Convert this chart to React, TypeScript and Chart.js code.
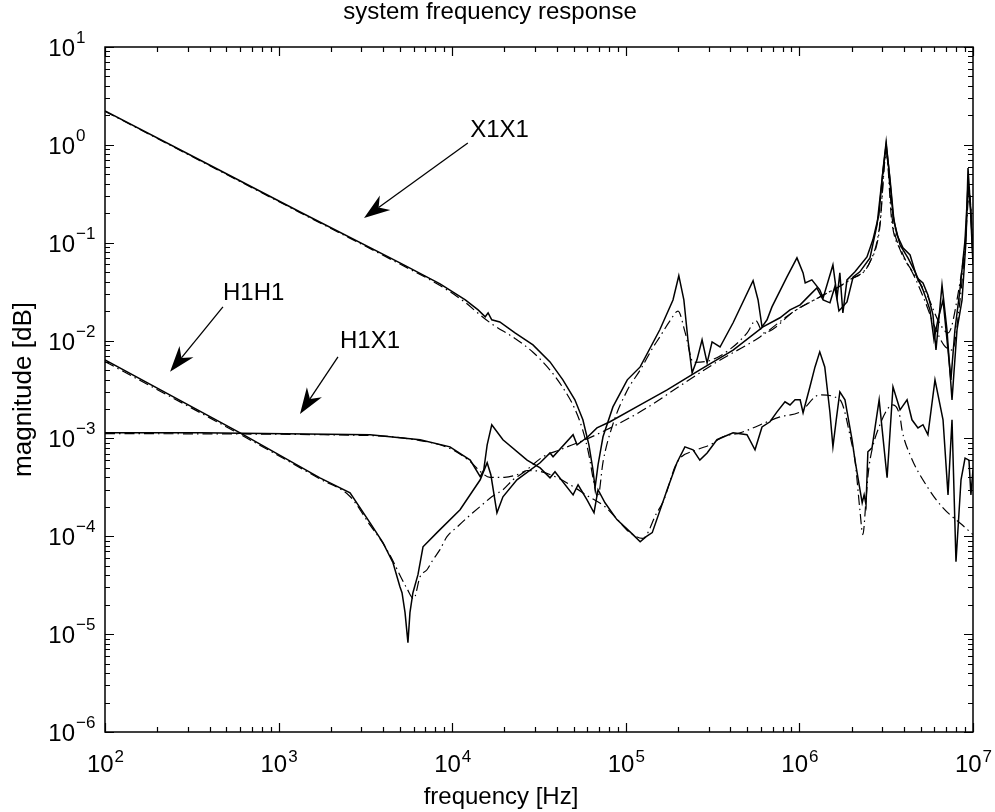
import React, { useEffect, useRef } from "react";
import { Chart, registerables } from "chart.js";

Chart.register(...registerables);

// ---------------- data (frequency in Hz, magnitude) ----------------
// X1X1 measured (solid)
const x1x1Freq = [100, 352, 1330, 5000, 8510, 11900, 14100, 15500, 16100, 16900, 18800, 23000, 29200, 36600, 43400, 50900, 56600, 61300, 64700, 66500, 69200, 73900, 84300, 102000, 121000, 157000, 187000, 202000, 216000, 228000, 241000, 257000, 275000, 294000, 314000, 349000, 415000, 541000, 578000, 609000, 651000, 695000, 848000, 968000, 1050000, 1080000, 1180000, 1310000, 1370000, 1560000, 1650000, 1710000, 1780000, 1880000, 2090000, 2450000, 2650000, 2870000, 3030000, 3160000, 3280000, 3460000, 3650000, 3950000, 4340000, 4760000, 5150000, 5500000, 5880000, 6120000, 6630000, 7080000, 7570000, 8090000, 8650000, 9120000, 9360000, 9610000, 10000000];
const x1x1Mag = [2.22, 0.70, 0.206, 0.0622, 0.0379, 0.026, 0.0206, 0.0175, 0.0192, 0.0163, 0.0155, 0.0120, 0.00904, 0.00605, 0.00397, 0.00248, 0.00155, 0.00086, 0.000478, 0.000313, 0.000537, 0.00104, 0.0021, 0.00397, 0.00538, 0.0129, 0.026, 0.046, 0.026, 0.0102, 0.00468, 0.00635, 0.0102, 0.00592, 0.0097, 0.0086, 0.0152, 0.041, 0.026, 0.0138, 0.0163, 0.0221, 0.0448, 0.070, 0.0492, 0.0388, 0.0417, 0.033, 0.0273, 0.0593, 0.0279, 0.0492, 0.0192, 0.0417, 0.0504, 0.0716, 0.107, 0.192, 0.554, 1.07, 0.554, 0.192, 0.120, 0.0885, 0.075, 0.0437, 0.0388, 0.0293, 0.0183, 0.008, 0.037, 0.0129, 0.00248, 0.0129, 0.026, 0.107, 0.58, 0.274, 0.06];

// H1H1 measured (solid)
const h1h1Freq = [100, 600, 1730, 2580, 3365, 3990, 4560, 5000, 5140, 5350, 5560, 5710, 5940, 6350, 6790, 8170, 11100, 14500, 15900, 16700, 18100, 19600, 23600, 32100, 36600, 38100, 49700, 52400, 60500, 68200, 81100, 121000, 173000, 267000, 415000, 617000, 773000, 883000, 1010000, 1150000, 1260000, 1370000, 1500000, 1600000, 1690000, 1880000, 2040000, 2230000, 2550000, 2800000, 2990000, 3160000, 3330000, 3510000, 3800000, 4220000, 4640000, 5150000, 5650000, 5960000, 6280000, 6720000, 7180000, 7460000, 7870000, 8410000, 9000000, 9360000, 9730000, 10000000];
const h1h1Mag = [6.35e-3, 1.14e-3, 3.96e-4, 2.78e-4, 1.37e-4, 8.6e-5, 5.36e-5, 3.05e-5, 2.65e-5, 1.66e-5, 8.2e-6, 1.66e-5, 2.65e-5, 4.05e-5, 7.8e-5, 1.09e-4, 1.87e-4, 3.78e-4, 5.64e-4, 4.25e-4, 1.74e-4, 2.53e-4, 3.78e-4, 5.64e-4, 7.1e-4, 6.5e-4, 1.09e-3, 8.6e-4, 1.04e-3, 1.28e-3, 1.48e-3, 2.2e-3, 3.13e-3, 5.02e-3, 8.0e-3, 0.0138, 0.0171, 0.0206, 0.0232, 0.0293, 0.0345, 0.026, 0.0243, 0.0354, 0.0201, 0.0248, 0.0448, 0.0504, 0.070, 0.152, 0.438, 1.0, 0.438, 0.163, 0.095, 0.070, 0.0504, 0.033, 0.0206, 0.0102, 0.0163, 0.026, 0.008, 0.00397, 0.0129, 0.033, 0.107, 0.389, 0.216, 0.0667];

// H1X1 measured (solid)
const h1x1Freq = [100, 352, 3365, 6530, 9710, 12700, 14500, 15200, 15900, 16900, 19600, 27000, 32100, 36600, 39100, 49700, 53100, 59800, 65600, 69200, 75900, 88900, 110000, 121000, 131000, 142000, 173000, 197000, 219000, 244000, 267000, 294000, 335000, 415000, 499000, 555000, 609000, 677000, 743000, 826000, 883000, 944000, 1010000, 1050000, 1150000, 1230000, 1310000, 1400000, 1500000, 1560000, 1630000, 1710000, 1830000, 2010000, 2090000, 2300000, 2360000, 2420000, 2480000, 2620000, 2880000, 3200000, 3460000, 3800000, 4170000, 4450000, 4820000, 5150000, 5500000, 6040000, 6720000, 7180000, 7570000, 7980000, 8530000, 9000000, 9480000, 9730000, 10000000];
const h1x1Mag = [1.14e-3, 1.14e-3, 1.09e-3, 9.7e-4, 8.2e-4, 6.0e-4, 4.06e-4, 4.78e-4, 8.6e-4, 1.38e-3, 9.7e-4, 6.0e-4, 5.0e-4, 3.96e-4, 4.56e-4, 2.65e-4, 3.36e-4, 2.36e-4, 1.74e-4, 2.99e-4, 2.2e-4, 1.48e-4, 1.04e-4, 8.8e-5, 9.9e-5, 1.09e-4, 2.99e-4, 5.64e-4, 8.2e-4, 7.65e-4, 6.0e-4, 7.1e-4, 9.7e-4, 1.14e-3, 1.09e-3, 7.65e-4, 1.31e-3, 1.48e-3, 1.87e-3, 2.37e-3, 2.2e-3, 2.48e-3, 2.48e-3, 1.83e-3, 3.37e-3, 5.38e-3, 7.67e-3, 5.38e-3, 1.83e-3, 8.2e-4, 1.55e-3, 2.99e-3, 2.48e-3, 9.7e-4, 6.0e-4, 2.2e-4, 2.65e-4, 2.1e-4, 7.3e-4, 8.0e-4, 2.48e-3, 3.96e-4, 3.37e-3, 1.96e-3, 2.48e-3, 1.55e-3, 1.28e-3, 1.38e-3, 1.09e-3, 3.97e-3, 1.55e-3, 2.65e-4, 1.55e-3, 5.5e-5, 3.78e-4, 6.3e-4, 6.0e-4, 2.65e-4, 4.78e-4];

// X1X1 model (dash-dot)
const x1x1ModelFreq = [100, 1330, 5000, 8510, 11900, 14100, 16900, 23000, 29200, 36600, 43400, 50900, 56600, 61300, 65000, 69000, 74000, 84300, 102000, 121000, 144000, 157000, 180000, 200000, 220000, 245000, 300000, 400000, 500000, 560000, 620000, 700000, 920000, 1310000, 1950000, 2550000, 2900000, 3160000, 3400000, 3800000, 4500000, 5500000, 6300000, 7200000, 8200000, 9000000, 9500000, 10000000];
const x1x1ModelMag = [2.2, 0.203, 0.0605, 0.0365, 0.0245, 0.019, 0.0148, 0.0105, 0.0076, 0.005, 0.0033, 0.002, 0.0012, 0.00068, 0.00038, 0.00025, 0.00058, 0.0014, 0.0031, 0.005, 0.0086, 0.0109, 0.016, 0.02, 0.012, 0.006, 0.0062, 0.0082, 0.012, 0.016, 0.012, 0.013, 0.0196, 0.0279, 0.0417, 0.0637, 0.15, 0.85, 0.17, 0.085, 0.05, 0.028, 0.016, 0.012, 0.03, 0.1, 0.35, 0.08];

// H1H1 model (dash-dot)
const h1h1ModelFreq = [100, 600, 1730, 2580, 3365, 3990, 4560, 5000, 5500, 6000, 6530, 7160, 7750, 8500, 9330, 10700, 12200, 14900, 16900, 19600, 22400, 25600, 33400, 41800, 68200, 121000, 214000, 335000, 593000, 918000, 1310000, 1950000, 2550000, 2900000, 3160000, 3450000, 3900000, 4600000, 5300000, 6000000, 6800000, 7600000, 8400000, 9000000, 9500000, 10000000];
const h1h1ModelMag = [6.1e-3, 1.1e-3, 3.85e-4, 2.55e-4, 1.3e-4, 8.5e-5, 5.6e-5, 4.0e-5, 2.9e-5, 2.3e-5, 3.86e-5, 4.55e-5, 5.75e-5, 7.3e-5, 9.9e-5, 1.25e-4, 1.55e-4, 2.1e-4, 2.53e-4, 2.99e-4, 3.78e-4, 4.45e-4, 6.5e-4, 7.65e-4, 1.1e-3, 1.87e-3, 3.61e-3, 6.05e-3, 0.0109, 0.0196, 0.0279, 0.0417, 0.0637, 0.14, 0.8, 0.16, 0.08, 0.045, 0.025, 0.014, 0.009, 0.008, 0.025, 0.09, 0.3, 0.07];

// H1X1 model (dash-dot)
const h1x1ModelFreq = [100, 3365, 6530, 9710, 12700, 14500, 16500, 20000, 24000, 27000, 32000, 40000, 50000, 60000, 76000, 89000, 105000, 125000, 151000, 164000, 197000, 257000, 306000, 363000, 455000, 773000, 1010000, 1310000, 1710000, 2010000, 2090000, 2230000, 2320000, 2420000, 2480000, 2550000, 2910000, 3460000, 3800000, 3900000, 4340000, 5500000, 6720000, 8650000, 10000000];
const h1x1ModelMag = [1.12e-3, 1.07e-3, 9.5e-4, 7.9e-4, 5.8e-4, 4.6e-4, 4.0e-4, 4.0e-4, 4.3e-4, 4.7e-4, 4.6e-4, 4.0e-4, 3.2e-4, 2.6e-4, 2.0e-4, 1.5e-4, 1.1e-4, 9.5e-5, 1.74e-4, 2.25e-4, 5.64e-4, 7.65e-4, 8.6e-4, 1.04e-3, 1.14e-3, 1.66e-3, 1.87e-3, 2.79e-3, 2.48e-3, 8.6e-4, 6.0e-4, 1.87e-4, 1.04e-4, 2.36e-4, 4.06e-4, 6.0e-4, 1.38e-3, 2.2e-3, 1.66e-3, 1.22e-3, 6.8e-4, 3.13e-4, 1.95e-4, 1.31e-4, 1.04e-4];

// axis decades (tick labels 10^n)
const xDecades = [2, 3, 4, 5, 6, 7];
const yDecades = [-6, -5, -4, -3, -2, -1, 0, 1];

// annotations: label, text anchor (freq, mag), arrow tail, arrow tip
const annotationLabels = ["X1X1", "H1H1", "H1X1"];
const annotationTextFreq = [12700, 478, 2259];
const annotationTextMag = [1.42, 0.0307, 0.0097];
const annotationTailFreq = [12300, 478, 2198];
const annotationTailMag = [1.045, 0.0221, 0.00682];
const annotationTipFreq = [3105, 237, 1328];
const annotationTipMag = [0.179, 0.00479, 0.00178];

const titleText = "system frequency response";
const xTitle = "frequency [Hz]";
const yTitle = "magnitude [dB]";

const FONT = '"Liberation Sans", Arial, Helvetica, sans-serif';

const pts = (f: number[], m: number[]) => f.map((x, i) => ({ x, y: m[i] }));

function drawArrow(ctx: CanvasRenderingContext2D, x0: number, y0: number, x1: number, y1: number) {
  const ang = Math.atan2(y1 - y0, x1 - x0);
  const c = Math.cos(ang), s = Math.sin(ang);
  const L = 26, W = 9, back = 18;
  ctx.beginPath();
  ctx.moveTo(x0, y0);
  ctx.lineTo(x1 - c * back, y1 - s * back);
  ctx.stroke();
  const bx = x1 - c * L, by = y1 - s * L;
  const nx = -s, ny = c;
  ctx.beginPath();
  ctx.moveTo(x1, y1);
  ctx.lineTo(bx + nx * W, by + ny * W);
  ctx.lineTo(x1 - c * back, y1 - s * back);
  ctx.lineTo(bx - nx * W, by - ny * W);
  ctx.closePath();
  ctx.fill();
}

const matlabAxes = {
  id: "matlabAxes",
  afterDatasetsDraw(chart: any) {
    const ctx: CanvasRenderingContext2D = chart.ctx;
    const { left, right, top, bottom } = chart.chartArea;
    const xs = chart.scales.x;
    const ys = chart.scales.y;
    ctx.save();
    ctx.strokeStyle = "#000";
    ctx.fillStyle = "#000";
    // box
    ctx.lineWidth = 1.5;
    ctx.strokeRect(left, top, right - left, bottom - top);
    // ticks
    ctx.lineWidth = 1.2;
    ctx.beginPath();
    for (let e = 2; e <= 7; e++) {
      for (let m = 1; m <= 9; m++) {
        const v = m * Math.pow(10, e);
        if (v > 1e7 * 1.0001) continue;
        const px = Math.round(xs.getPixelForValue(v)) + 0.5;
        const len = m === 1 ? 9 : 5;
        ctx.moveTo(px, bottom); ctx.lineTo(px, bottom - len);
        ctx.moveTo(px, top); ctx.lineTo(px, top + len);
      }
    }
    for (let e = -6; e <= 1; e++) {
      for (let m = 1; m <= 9; m++) {
        const v = m * Math.pow(10, e);
        if (v > 10 * 1.0001) continue;
        const py = Math.round(ys.getPixelForValue(v)) + 0.5;
        const len = m === 1 ? 9 : 5;
        ctx.moveTo(left, py); ctx.lineTo(left + len, py);
        ctx.moveTo(right, py); ctx.lineTo(right - len, py);
      }
    }
    ctx.stroke();

    // tick labels
    const baseFont = `24px ${FONT}`;
    const expFont = `17px ${FONT}`;
    const expStr = (e: number) => (e < 0 ? "\u2212" + Math.abs(e) : String(e));
    ctx.textBaseline = "alphabetic";
    xDecades.forEach((e) => {
      const px = xs.getPixelForValue(Math.pow(10, e));
      ctx.font = baseFont;
      const w1 = ctx.measureText("10").width;
      ctx.font = expFont;
      const w2 = ctx.measureText(expStr(e)).width;
      const start = px - (w1 + w2) / 2;
      ctx.textAlign = "left";
      ctx.font = baseFont;
      ctx.fillText("10", start, bottom + 40);
      ctx.font = expFont;
      ctx.fillText(expStr(e), start + w1 + 1, bottom + 30);
    });
    yDecades.forEach((e) => {
      const py = ys.getPixelForValue(Math.pow(10, e));
      ctx.font = baseFont;
      ctx.textAlign = "right";
      ctx.fillText("10", left - 30, py + 9);
      ctx.font = expFont;
      ctx.textAlign = "left";
      ctx.fillText(expStr(e), left - 29, py - 4);
    });

    // titles
    ctx.textAlign = "center";
    const cx = (left + right) / 2;
    ctx.font = `24px ${FONT}`;
    ctx.fillText(titleText, cx - 49, top - 28);
    ctx.fillText(xTitle, cx - 38, bottom + 72);
    ctx.save();
    ctx.font = `26px ${FONT}`;
    ctx.translate(left - 74, (top + bottom) / 2);
    ctx.rotate(-Math.PI / 2);
    ctx.fillText(yTitle, 0, 0);
    ctx.restore();

    // annotations
    ctx.lineWidth = 1.3;
    annotationLabels.forEach((lab, i) => {
      const tx = xs.getPixelForValue(annotationTextFreq[i]);
      const ty = ys.getPixelForValue(annotationTextMag[i]);
      ctx.font = `24px ${FONT}`;
      ctx.textAlign = "left";
      ctx.textBaseline = "middle";
      ctx.fillText(lab, tx, ty);
      const x0 = xs.getPixelForValue(annotationTailFreq[i]);
      const y0 = ys.getPixelForValue(annotationTailMag[i]);
      const x1 = xs.getPixelForValue(annotationTipFreq[i]);
      const y1 = ys.getPixelForValue(annotationTipMag[i]);
      drawArrow(ctx, x0, y0, x1, y1);
    });
    ctx.restore();
  },
};

export default function App() {
  const ref = useRef<HTMLCanvasElement | null>(null);
  useEffect(() => {
    if (!ref.current) return;
    const solid = (f: number[], m: number[]) => ({
      data: pts(f, m),
      borderColor: "#000",
      borderWidth: 1.5,
      pointRadius: 0,
      tension: 0,
      fill: false,
    });
    const dashdot = (f: number[], m: number[]) => ({
      data: pts(f, m),
      borderColor: "#000",
      borderWidth: 1.2,
      borderDash: [10, 4, 1.5, 4],
      pointRadius: 0,
      cubicInterpolationMode: "monotone" as const,
      fill: false,
    });
    const chart = new Chart(ref.current, {
      type: "line",
      data: {
        datasets: [
          dashdot(x1x1ModelFreq, x1x1ModelMag),
          dashdot(h1h1ModelFreq, h1h1ModelMag),
          dashdot(h1x1ModelFreq, h1x1ModelMag),
          solid(x1x1Freq, x1x1Mag),
          solid(h1h1Freq, h1h1Mag),
          solid(h1x1Freq, h1x1Mag),
        ] as any,
      },
      options: {
        animation: false,
        responsive: false,
        devicePixelRatio: 1,
        layout: { padding: { left: 105, top: 47, right: 22, bottom: 80 } },
        plugins: { legend: { display: false }, tooltip: { enabled: false } },
        events: [],
        scales: {
          x: { type: "logarithmic", min: 100, max: 1e7, display: false },
          y: { type: "logarithmic", min: 1e-6, max: 10, display: false },
        },
      },
      plugins: [matlabAxes],
    });
    return () => chart.destroy();
  }, []);
  return (
    <div style={{ position: "absolute", left: 0, top: 0, width: 995, height: 812, background: "#fff" }}>
      <canvas ref={ref} width={995} height={812} style={{ display: "block" }} />
    </div>
  );
}
